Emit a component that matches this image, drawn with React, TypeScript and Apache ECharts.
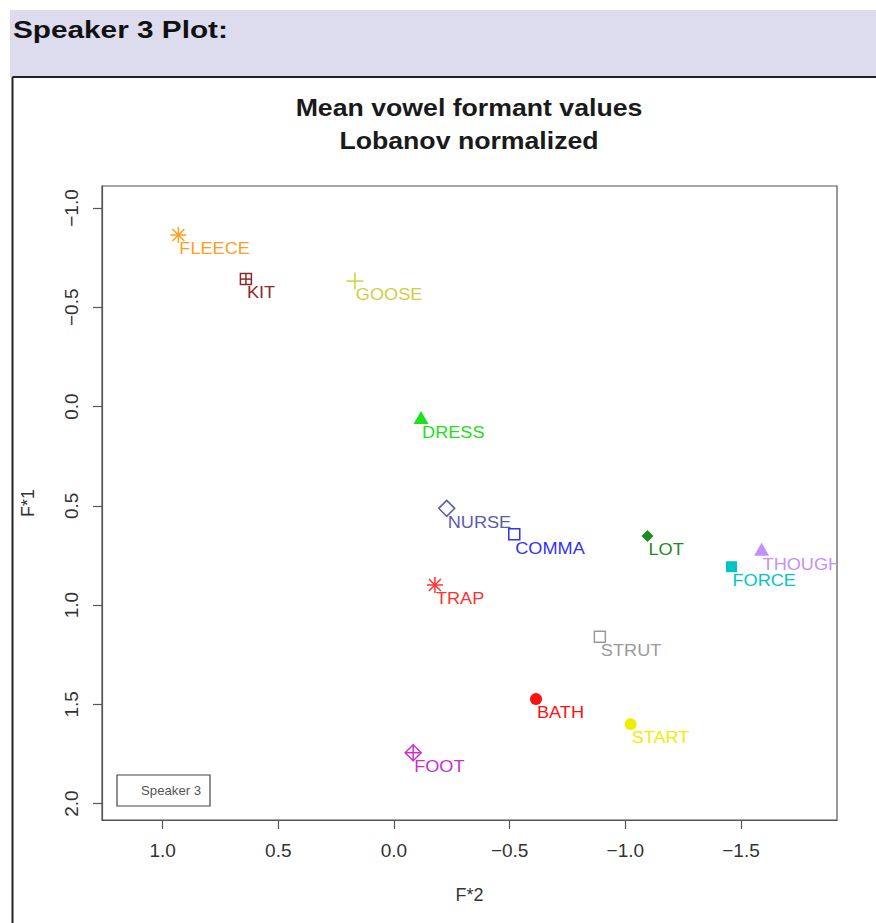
import React, { useEffect, useRef } from "react";
import * as echarts from "echarts";

const vowels = ["FLEECE", "KIT", "GOOSE", "DRESS", "NURSE", "COMMA", "TRAP", "LOT", "THOUGHT", "FORCE", "STRUT", "BATH", "START", "FOOT"];
const f2Values = [0.932, 0.64, 0.169, -0.117, -0.228, -0.52, -0.177, -1.096, -1.589, -1.459, -0.89, -0.614, -1.023, -0.083];
const f1Values = [-0.864, -0.642, -0.632, 0.063, 0.513, 0.644, 0.899, 0.652, 0.726, 0.807, 1.16, 1.474, 1.6, 1.744];
const vowelColors = ["#ff9f1f", "#8b2a2a", "#cfcf40", "#1ee01e", "#5c5cad", "#3030ff", "#ff3030", "#1f8a1f", "#c38fff", "#00c5c5", "#9a9a9a", "#ff1010", "#eeee00", "#cc2ecc"];
const vowelSymbols = ["asterisk", "squarePlus", "plus", "triangle", "diamond", "square", "asterisk", "diamondFilled", "triangle", "squareFilled", "square", "circle", "circle", "diamondPlus"];
const xTicks = [1.0, 0.5, 0.0, -0.5, -1.0, -1.5];
const yTicks = [-1.0, -0.5, 0.0, 0.5, 1.0, 1.5, 2.0];

const FONT = "Liberation Sans";
const fmt = (v: number) => v.toFixed(1).replace("-", "\u2212");

function markerShapes(kind: string, x: number, y: number, c: string): any[] {
  const lw = 1.5;
  const ln = (x1: number, y1: number, x2: number, y2: number) => ({ type: "line", shape: { x1, y1, x2, y2 }, style: { stroke: c, lineWidth: lw } });
  const out: any[] = [];
  if (kind === "asterisk") {
    const r = 8, d = 6;
    out.push(ln(x - r, y, x + r, y), ln(x, y - r, x, y + r), ln(x - d, y - d, x + d, y + d), ln(x - d, y + d, x + d, y - d));
  } else if (kind === "plus") {
    const r = 8.5;
    out.push(ln(x - r, y, x + r, y), ln(x, y - r, x, y + r));
  } else if (kind === "squarePlus") {
    const h = 5.5;
    out.push({ type: "rect", shape: { x: x - h, y: y - h, width: 2 * h, height: 2 * h }, style: { fill: "none", stroke: c, lineWidth: lw } });
    out.push(ln(x - h, y, x + h, y), ln(x, y - h, x, y + h));
  } else if (kind === "square") {
    const h = 5.5;
    out.push({ type: "rect", shape: { x: x - h, y: y - h, width: 2 * h, height: 2 * h }, style: { fill: "none", stroke: c, lineWidth: lw } });
  } else if (kind === "squareFilled") {
    const h = 5.5;
    out.push({ type: "rect", shape: { x: x - h, y: y - h, width: 2 * h, height: 2 * h }, style: { fill: c } });
  } else if (kind === "triangle") {
    out.push({ type: "polygon", shape: { points: [[x, y - 8], [x - 7.5, y + 5], [x + 7.5, y + 5]] }, style: { fill: c } });
  } else if (kind === "diamond" || kind === "diamondPlus") {
    const r = 8;
    out.push({ type: "polygon", shape: { points: [[x, y - r], [x + r, y], [x, y + r], [x - r, y]] }, style: { fill: "none", stroke: c, lineWidth: lw } });
    if (kind === "diamondPlus") out.push(ln(x - r, y, x + r, y), ln(x, y - r, x, y + r));
  } else if (kind === "diamondFilled") {
    const r = 6;
    out.push({ type: "polygon", shape: { points: [[x, y - r], [x + r, y], [x, y + r], [x - r, y]] }, style: { fill: c } });
  } else if (kind === "circle") {
    out.push({ type: "circle", shape: { cx: x, cy: y, r: 6 }, style: { fill: c } });
  }
  return out;
}

export default function App() {
  const ref = useRef<HTMLDivElement>(null);
  useEffect(() => {
    if (!ref.current) return;
    const chart = echarts.init(ref.current, null, { renderer: "svg" });
    const data = vowels.map((v, i) => [f2Values[i], f1Values[i], i]);
    chart.setOption({
      animation: false,
      backgroundColor: "#ffffff",
      grid: { left: 102, top: 186, width: 735, height: 634, show: true, borderColor: "#555", borderWidth: 1.2, backgroundColor: "transparent" },
      xAxis: {
        type: "value", min: -1.915, max: 1.262, inverse: true,
        axisLine: { show: true, onZero: false, lineStyle: { color: "#555", width: 1.2 } },
        axisTick: { show: true, length: 9, inside: false, customValues: xTicks, lineStyle: { color: "#555", width: 1.2 } },
        axisLabel: { customValues: xTicks, formatter: (v: number) => fmt(v), fontSize: 19, color: "#333", margin: 21, fontFamily: FONT },
        splitLine: { show: false },
        name: "F*2", nameLocation: "middle", nameGap: 66,
        nameTextStyle: { fontSize: 18, color: "#333", fontFamily: FONT },
      },
      yAxis: {
        type: "value", min: -1.111, max: 2.083, inverse: true,
        axisLine: { show: true, onZero: false, lineStyle: { color: "#555", width: 1.2 } },
        axisTick: { show: true, length: 9, inside: false, customValues: yTicks, lineStyle: { color: "#555", width: 1.2 } },
        axisLabel: { customValues: yTicks, formatter: (v: number) => fmt(v), fontSize: 19, color: "#333", margin: 21, rotate: 90, fontFamily: FONT },
        splitLine: { show: false },
        name: "F*1", nameLocation: "middle", nameGap: 65, nameRotate: 90,
        nameTextStyle: { fontSize: 18, color: "#333", fontFamily: FONT },
      },
      graphic: [
        { type: "rect", shape: { x: 10, y: 10, width: 866, height: 67 }, style: { fill: "#dcdcee" }, silent: true },
        { type: "text", x: 13, y: 30, scaleX: 1.24, style: { text: "Speaker 3 Plot:", fill: "#111", fontSize: 24, fontWeight: "bold", fontFamily: FONT, align: "left", verticalAlign: "middle" } },
        { type: "line", shape: { x1: 12.5, y1: 77, x2: 876, y2: 77 }, style: { stroke: "#222", lineWidth: 2 } },
        { type: "line", shape: { x1: 12.5, y1: 77, x2: 12.5, y2: 923 }, style: { stroke: "#222", lineWidth: 2 } },
        { type: "text", x: 469, y: 108, scaleX: 1.16, style: { text: "Mean vowel formant values", fill: "#1a1a1a", fontSize: 23, fontWeight: "bold", fontFamily: FONT, align: "center", verticalAlign: "middle" } },
        { type: "text", x: 469, y: 141, scaleX: 1.16, style: { text: "Lobanov normalized", fill: "#1a1a1a", fontSize: 23, fontWeight: "bold", fontFamily: FONT, align: "center", verticalAlign: "middle" } },
        { type: "rect", shape: { x: 117, y: 775, width: 93, height: 31 }, style: { fill: "#fff", stroke: "#444", lineWidth: 1.2 } },
        { type: "text", x: 141, y: 791, scaleX: 1.1, style: { text: "Speaker 3", fill: "#555", fontSize: 12, fontFamily: FONT, align: "left", verticalAlign: "middle" } },
      ],
      series: [
        {
          type: "custom",
          clip: true,
          encode: { x: 0, y: 1 },
          data,
          renderItem: (params: any, api: any) => {
            const i = api.value(2);
            const p = api.coord([api.value(0), api.value(1)]);
            const c = vowelColors[i];
            const children = markerShapes(vowelSymbols[i], p[0], p[1], c);
            children.push({
              type: "text", x: p[0] + 1, y: p[1] + 5, scaleX: 1.1,
              style: { text: vowels[i], fill: c, fontSize: 16.5, fontFamily: FONT, align: "left", verticalAlign: "top" },
            });
            return { type: "group", children };
          },
        },
      ],
    });
    return () => chart.dispose();
  }, []);
  return <div ref={ref} style={{ position: "fixed", left: 0, top: 0, width: 876, height: 923 }} />;
}
